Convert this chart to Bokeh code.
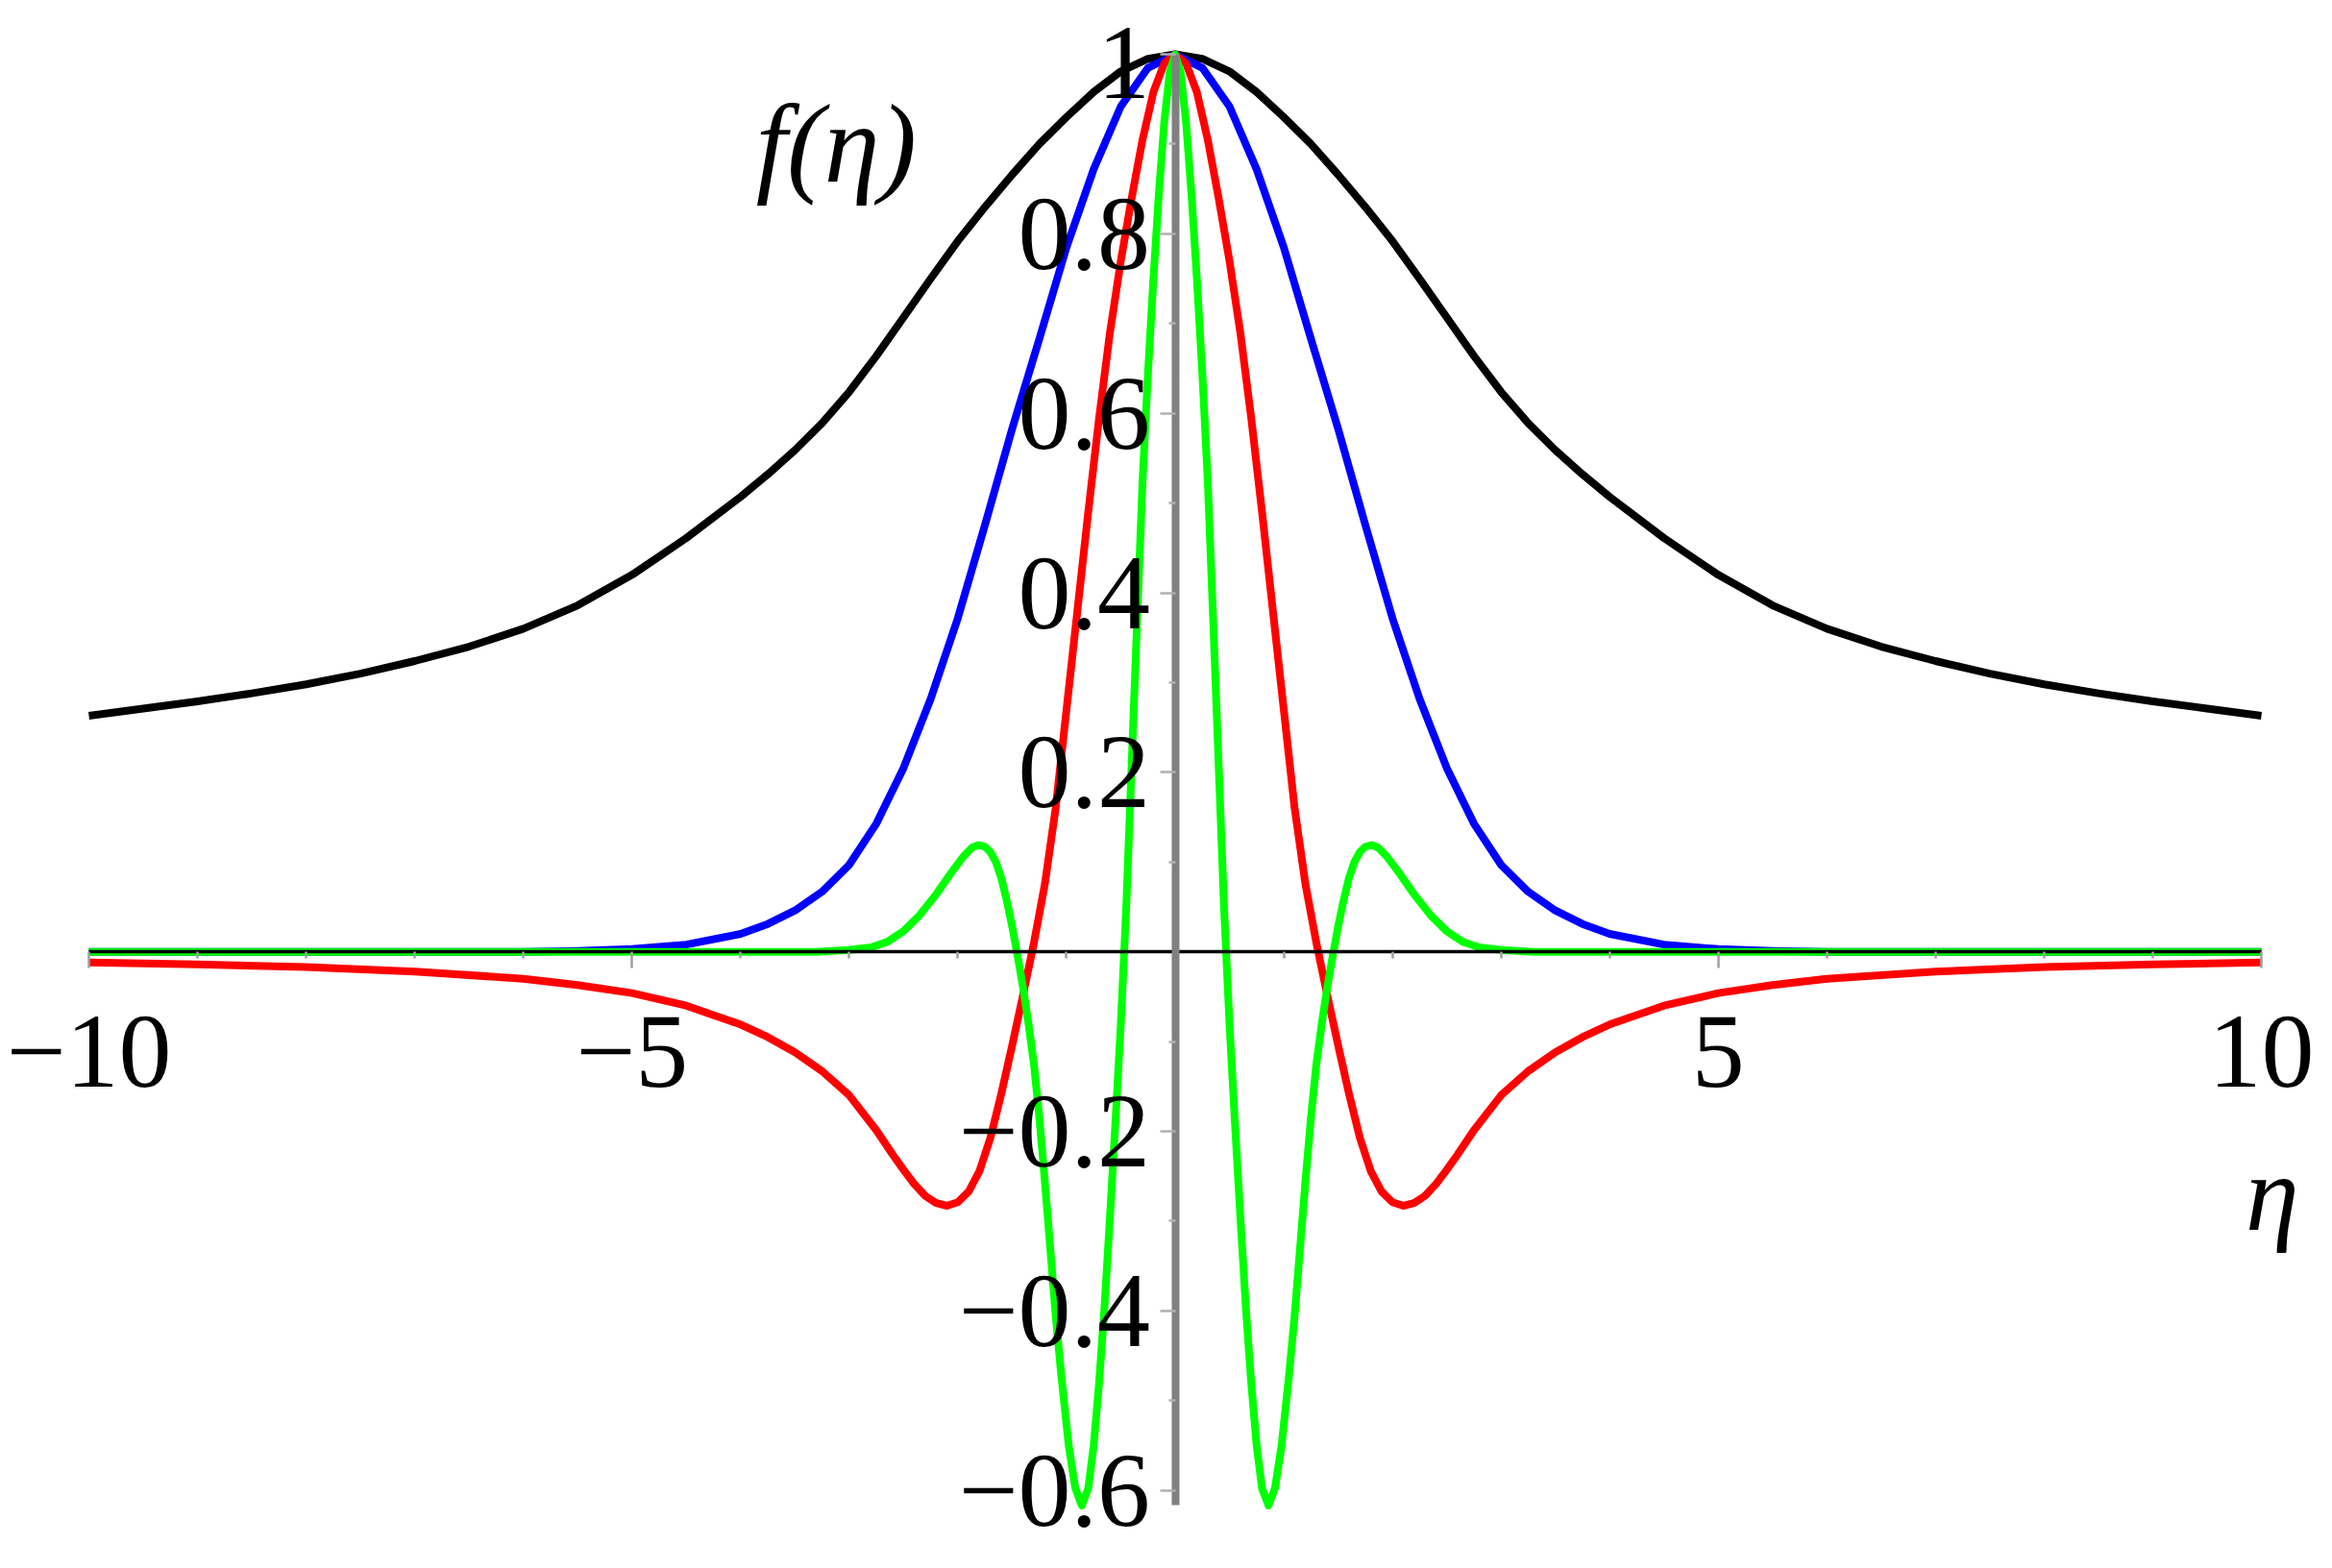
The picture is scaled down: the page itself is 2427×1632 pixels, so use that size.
from bokeh.plotting import figure
from bokeh.models import Range1d, LinearAxis, FixedTicker, Label
from bokeh.embed import file_html
from bokeh.resources import INLINE

# ---- data (left half, then right half) ----
black_x_left = [-10, -9.5, -9, -8.5, -8, -7.5, -7, -6.5, -6, -5.5, -5, -4.5, -4,
                -3.75, -3.5, -3.25, -3, -2.75, -2.5, -2.25, -2, -1.75, -1.5, -1.25, -1, -0.75, -0.5, -0.25, 0]
black_y_left = [0.263, 0.271, 0.279, 0.288, 0.298, 0.310, 0.324, 0.340, 0.360, 0.386, 0.420, 0.461, 0.507,
                0.532, 0.559, 0.589, 0.624, 0.664, 0.707, 0.750, 0.792, 0.830, 0.866, 0.900, 0.930, 0.958, 0.981, 0.995, 1.000]
black_x_right = [0.25, 0.5, 0.75, 1, 1.25, 1.5, 1.75, 2, 2.25, 2.5, 2.75, 3, 3.25, 3.5, 3.75,
                 4, 4.5, 5, 5.5, 6, 6.5, 7, 7.5, 8, 8.5, 9, 9.5, 10]
black_y_right = [0.995, 0.981, 0.958, 0.930, 0.900, 0.866, 0.830, 0.792, 0.750, 0.707, 0.664, 0.624, 0.589, 0.559, 0.532,
                 0.507, 0.461, 0.420, 0.386, 0.360, 0.340, 0.324, 0.310, 0.298, 0.288, 0.279, 0.271, 0.263]

blue_x_left = [-10, -6, -5.5, -5, -4.5, -4, -3.75, -3.5, -3.25, -3, -2.75, -2.5, -2.25, -2, -1.75, -1.5,
               -1.25, -1, -0.75, -0.5, -0.25, 0]
blue_y_left = [0.0, 0.0, 0.001, 0.003, 0.008, 0.020, 0.031, 0.046, 0.067, 0.097, 0.143, 0.205, 0.282, 0.372, 0.476, 0.583,
               0.683, 0.785, 0.872, 0.942, 0.985, 1.0]
blue_x_right = [0.25, 0.5, 0.75, 1, 1.25, 1.5, 1.75, 2, 2.25, 2.5, 2.75, 3, 3.25, 3.5, 3.75, 4, 4.5, 5, 5.5, 6, 10]
blue_y_right = [0.985, 0.942, 0.872, 0.785, 0.683, 0.583, 0.476, 0.372, 0.282, 0.205, 0.143, 0.097, 0.067, 0.046, 0.031,
                0.020, 0.008, 0.003, 0.001, 0.0, 0.0]

red_x_left = [-10, -9, -8, -7, -6, -5.5, -5, -4.5, -4, -3.75, -3.5, -3.25, -3, -2.75, -2.6, -2.5, -2.4, -2.3, -2.2, -2.1, -2,
              -1.9, -1.8, -1.7, -1.6, -1.5, -1.4, -1.3, -1.2, -1.1, -1, -0.9, -0.8, -0.7, -0.6, -0.5, -0.4, -0.3, -0.2, -0.1, 0]
red_y_left = [-0.012, -0.014, -0.017, -0.022, -0.030, -0.037, -0.046, -0.060, -0.081, -0.095, -0.112, -0.133, -0.160, -0.199,
              -0.226, -0.243, -0.259, -0.272, -0.280, -0.283, -0.279,
              -0.267, -0.244, -0.207, -0.158, -0.104, -0.048, 0.01, 0.075, 0.16, 0.27, 0.38, 0.49, 0.595, 0.69, 0.77, 0.84,
              0.905, 0.958, 0.99, 1.0]
red_x_right = [0.1, 0.2, 0.3, 0.4, 0.5, 0.6, 0.7, 0.8, 0.9, 1, 1.1, 1.2, 1.3, 1.4, 1.5, 1.6, 1.7, 1.8, 1.9,
               2, 2.1, 2.2, 2.3, 2.4, 2.5, 2.6, 2.75, 3, 3.25, 3.5, 3.75, 4, 4.5, 5, 5.5, 6, 7, 8, 9, 10]
red_y_right = [0.99, 0.958, 0.905, 0.84, 0.77, 0.69, 0.595, 0.49, 0.38, 0.27, 0.16, 0.075, 0.01, -0.048, -0.104, -0.158,
               -0.207, -0.244, -0.267, -0.279, -0.283, -0.280, -0.272, -0.259, -0.243, -0.226, -0.199, -0.160, -0.133,
               -0.112, -0.095, -0.081, -0.060, -0.046, -0.037, -0.030, -0.022, -0.017, -0.014, -0.012]

green_x_left = [-10, -3.3, -3.0, -2.8, -2.65, -2.5, -2.35, -2.2, -2.05, -1.95, -1.87, -1.81, -1.75, -1.7, -1.65, -1.6, -1.55,
                -1.5, -1.45, -1.4, -1.35, -1.3, -1.25, -1.2, -1.15, -1.1, -1.05, -0.98, -0.92, -0.86, -0.8, -0.75, -0.7,
                -0.65, -0.6, -0.55, -0.5, -0.45, -0.4, -0.35, -0.3, -0.25, -0.2, -0.15, -0.1, -0.05, 0]
green_y_left = [0.0, 0.0, 0.002, 0.005, 0.011, 0.023, 0.041, 0.064, 0.09, 0.106, 0.116, 0.119, 0.117, 0.111, 0.1, 0.082, 0.057,
                0.028, -0.005, -0.04, -0.08, -0.125, -0.185, -0.255, -0.33, -0.405, -0.47, -0.55, -0.597, -0.617, -0.598,
                -0.55, -0.48, -0.395, -0.295, -0.19, -0.08, 0.05, 0.21, 0.37, 0.525, 0.645, 0.75, 0.845, 0.925, 0.98, 1.0]
green_x_right = [0.05, 0.1, 0.15, 0.2, 0.25, 0.3, 0.35, 0.4, 0.45, 0.5, 0.55, 0.6, 0.65, 0.7, 0.75, 0.8, 0.86, 0.92, 0.98,
                 1.05, 1.1, 1.15, 1.2, 1.25, 1.3, 1.35, 1.4, 1.45, 1.5, 1.55, 1.6, 1.65, 1.7, 1.75, 1.81, 1.87, 1.95, 2.05,
                 2.2, 2.35, 2.5, 2.65, 2.8, 3.0, 3.3, 10]
green_y_right = [0.98, 0.925, 0.845, 0.75, 0.645, 0.525, 0.37, 0.21, 0.05, -0.08, -0.19, -0.295, -0.395, -0.48, -0.55,
                 -0.598, -0.617, -0.597, -0.55, -0.47, -0.405, -0.33, -0.255, -0.185, -0.125, -0.08, -0.04, -0.005, 0.028,
                 0.057, 0.082, 0.1, 0.111, 0.117, 0.119, 0.116, 0.106, 0.09, 0.064, 0.041, 0.023, 0.011, 0.005, 0.002,
                 0.0, 0.0]

x_ticks = [-10, -5, 5, 10]
x_tick_labels = ["\u221210", "\u22125", "5", "10"]
x_minor = [-9, -8, -7, -6, -4, -3, -2, -1, 1, 2, 3, 4, 6, 7, 8, 9]
y_ticks = [-0.6, -0.4, -0.2, 0.2, 0.4, 0.6, 0.8, 1.0]
y_tick_labels = ["\u22120.6", "\u22120.4", "\u22120.2", "0.2", "0.4", "0.6", "0.8", ""]
y_top_label = "1"
y_minor = [-0.5, -0.3, -0.1, 0.1, 0.3, 0.5, 0.7, 0.9]

FONT = "Liberation Serif"

p = figure(width=2411, height=1616, output_backend="svg", toolbar_location=None,
           x_range=Range1d(-10.814, 10.513), y_range=Range1d(-0.670, 1.060),
           min_border=0, min_border_left=0, min_border_right=0, min_border_top=0, min_border_bottom=0,
           x_axis_type=None, y_axis_type=None)
p.outline_line_color = None
p.xgrid.visible = False
p.ygrid.visible = False
p.background_fill_color = "white"
p.border_fill_color = "white"

W = 8
p.line(black_x_left + black_x_right, black_y_left + black_y_right, line_color="#000000", line_width=W, line_join="round")
p.line(blue_x_left + blue_x_right, blue_y_left + blue_y_right, line_color="#0000FF", line_width=W, line_join="round")
p.line(red_x_left + red_x_right, red_y_left + red_y_right, line_color="#FF0000", line_width=W, line_join="round")
p.line(green_x_left + green_x_right, green_y_left + green_y_right, line_color="#00FF00", line_width=W, line_join="round")

xaxis = LinearAxis(fixed_location=0, bounds=(-10, 10),
                   ticker=FixedTicker(ticks=x_ticks, minor_ticks=x_minor),
                   major_label_overrides=dict(zip(x_ticks, x_tick_labels)),
                   axis_line_color="#000000", axis_line_width=3.5,
                   major_tick_line_color="#a0a0a0", major_tick_line_width=2.5,
                   minor_tick_line_color="#a0a0a0", minor_tick_line_width=2.5,
                   major_tick_in=0, major_tick_out=17, minor_tick_in=0, minor_tick_out=7,
                   major_label_standoff=50,
                   major_label_text_font=FONT, major_label_text_font_size="110px",
                   major_label_text_color="#000000")
p.add_layout(xaxis, "below")

yaxis = LinearAxis(fixed_location=0, bounds=(-0.617, 1.0),
                   ticker=FixedTicker(ticks=y_ticks, minor_ticks=y_minor),
                   major_label_overrides=dict(zip(y_ticks, y_tick_labels)),
                   axis_line_color="#808080", axis_line_width=8,
                   major_tick_line_color="#b0b0b0", major_tick_line_width=2.5,
                   minor_tick_line_color="#b0b0b0", minor_tick_line_width=2.5,
                   major_tick_in=0, major_tick_out=16, minor_tick_in=0, minor_tick_out=7,
                   major_label_standoff=10,
                   major_label_orientation="horizontal",
                   major_label_text_font=FONT, major_label_text_font_size="110px",
                   major_label_text_color="#000000")
p.add_layout(yaxis, "left")

# top tick label "1", set slightly lower as in the reference
p.add_layout(Label(x=0, y=0.9904, x_offset=-26, text=y_top_label, text_font=FONT, text_font_size="110px",
                   text_align="right", text_baseline="middle", text_color="#000000"))

p.add_layout(Label(x=-3.12, y=0.90, text="f(\u03b7)", text_font=FONT, text_font_style="italic",
                   text_font_size="116px", text_align="center", text_baseline="middle", text_color="#000000"))
p.add_layout(Label(x=10.1, y=-0.269, text="\u03b7", text_font=FONT, text_font_style="italic",
                   text_font_size="112px", text_align="center", text_baseline="middle", text_color="#000000"))

open("out.html", "w").write(file_html(p, INLINE))
